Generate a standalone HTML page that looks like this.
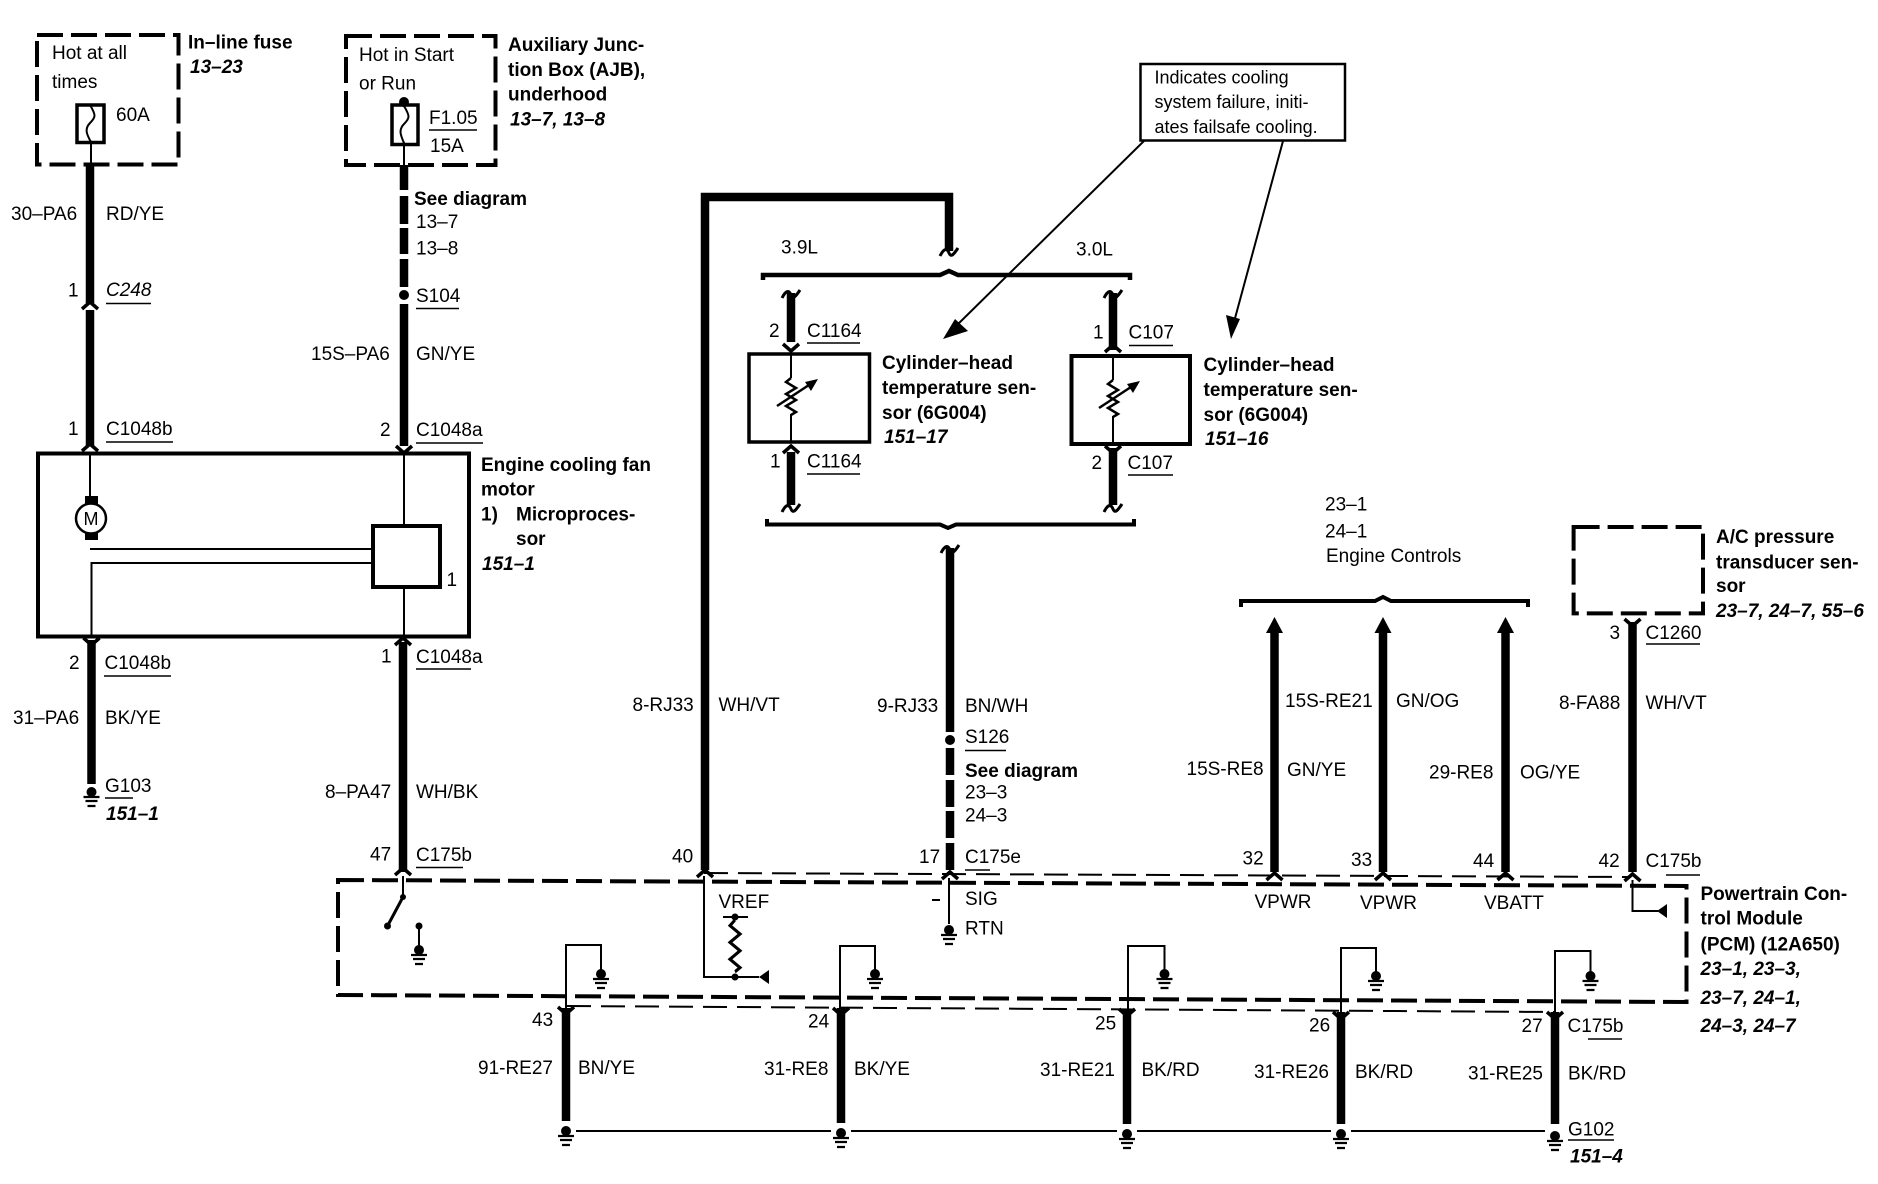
<!DOCTYPE html>
<html><head><meta charset="utf-8"><style>
html,body{margin:0;padding:0;background:#fff}
svg{display:block}
text{font-family:"Liberation Sans",sans-serif;font-size:19px;fill:#000}
.b{font-weight:bold}
.bi{font-weight:bold;font-style:italic}
.n{font-size:18px}
.w{stroke:#000;stroke-width:8.5;fill:none}
.t{stroke:#000;stroke-width:2;fill:none}
.m{stroke:#000;stroke-width:3.5;fill:none}
.d{stroke:#000;stroke-width:4;fill:none;stroke-dasharray:26 8}
.d2{stroke:#000;stroke-width:2;fill:none;stroke-dasharray:24 10}
.u{stroke:#000;stroke-width:1.5;fill:none}
</style></head><body>
<svg width="1878" height="1184" viewBox="0 0 1878 1184" xmlns="http://www.w3.org/2000/svg">
<defs>
<g id="gnd"><circle r="5" fill="#000"/><path d="M-8,5H8M-6,9H6M-4,14H4" stroke="#000" stroke-width="2.2"/></g>
<path id="up" d="M-8,7L0,0L8,7" stroke="#000" stroke-width="3.5" fill="none"/>
<path id="dn" d="M-8,-7L0,0L8,-7" stroke="#000" stroke-width="3.5" fill="none"/>
<path id="tl" d="M-9,5C-5,-3 -2,-3 0,2C2,7 5,3 9,-3" stroke="#000" stroke-width="3" fill="none"/>
<path id="zz" d="M0,0l-5,4l10,6l-10,6l10,6l-10,6l10,6l-5,3" stroke="#000" stroke-width="2.5" fill="none"/>
</defs>
<rect width="1878" height="1184" fill="#fff"/>

<!-- top left fuse boxes -->
<rect class="d" x="37" y="35" width="141.500" height="129.500"/>
<rect class="m" x="77" y="105" width="27" height="37.500"/>
<path class="t" d="M90,105c6,10 6,12 0,18c-6,6 -3,12 1,19V165" stroke-width="2.500"/>
<path class="w" d="M90,165V303M90,310V446"/>
<use href="#up" x="90" y="302"/><use href="#up" x="90" y="444"/>
<path class="t" d="M90,453V497"/>

<rect class="d" x="346" y="36" width="149.500" height="129"/>
<rect class="m" x="392" y="105" width="26" height="39.500"/>
<circle cx="404" cy="102" r="5" fill="#000"/>
<path class="t" d="M404,102V106c6,10 6,12 0,18c-6,6 -3,12 0,19V165" stroke-width="2.500"/>
<path class="w" d="M404,165V190M404,196V224M404,228V254M404,259V287M404,304V446"/>
<circle cx="404" cy="295" r="5" fill="#000"/>
<use href="#dn" x="404" y="453"/>
<path class="u" d="M429,130H477M106,303.500H151M416,308.500H459M106,442H173M416,443H483"/>

<!-- engine box -->
<rect x="38" y="453.500" width="431" height="183" fill="none" stroke="#000" stroke-width="4"/>
<rect x="373" y="526" width="67" height="61" fill="none" stroke="#000" stroke-width="4"/>
<path class="t" d="M404,453V526M404,587V636M90,549H373M373,563H91.500V636"/>
<circle cx="91" cy="518.500" r="15" fill="#fff" stroke="#000" stroke-width="2.500"/>
<rect x="85" y="496" width="13" height="8" fill="#000"/>
<rect x="85" y="533" width="13" height="7" fill="#000"/>
<text x="83.500" y="525" style="font-size:18px">M</text>

<path class="w" d="M91.500,640V784"/>
<use href="#dn" x="91.500" y="645"/>
<use href="#gnd" x="91.500" y="792"/>
<path class="u" d="M104,676H171M105,798H133M416,669H471M416,867.500H463"/>
<path class="w" d="M403,642V872"/>
<use href="#up" x="403" y="638"/><use href="#up" x="403" y="868"/>

<!-- PCM box -->
<path class="d" d="M338,880L1686.500,886V1002L338,995Z"/>
<path class="d2" d="M567,1006L1554,1012M704,873L1628,877"/>
<path class="t" d="M403,876V896"/>
<circle cx="403" cy="897" r="3" fill="#000"/>
<path d="M403,897L387.500,926" stroke="#000" stroke-width="3" fill="none"/>
<circle cx="387.500" cy="926" r="3.500" fill="#000"/>
<circle cx="419" cy="926" r="3.500" fill="#000"/>
<path class="t" d="M419,926V948"/>
<use href="#gnd" x="419" y="950"/>

<!-- heavy wire 40 to sensor -->
<path class="w" d="M705,870V197H949V251"/>
<use href="#up" x="705" y="870"/>
<use href="#tl" x="949" y="251"/>
<path class="t" d="M704,876V977H759"/>
<path d="M759,977L769,970V984Z" fill="#000"/>
<path d="M723,917H748" class="t"/>
<circle cx="735" cy="917" r="3.500" fill="#000"/>
<circle cx="735" cy="977" r="3.500" fill="#000"/>
<g transform="translate(735,920) scale(1,1.400)"><use href="#zz"/></g>

<!-- brackets -->
<path d="M763,280V275H940L949,271L958,275H1130V280" stroke="#000" stroke-width="4.500" fill="none"/>
<path d="M767,519V524.500H940L948,528L956,524.500H1134V519" stroke="#000" stroke-width="4" fill="none"/>

<!-- left sensor -->
<path class="w" d="M791,293V342"/>
<use href="#tl" x="791" y="293"/>
<use href="#dn" x="791" y="351"/>
<rect x="749" y="354" width="120.500" height="88" fill="none" stroke="#000" stroke-width="3.500"/>
<path class="t" d="M791,354V378M791,414V442"/>
<use href="#zz" x="791" y="378"/>
<path d="M777,406L812,383" stroke="#000" stroke-width="2.500"/>
<path d="M818,379L805,382L811,391Z" fill="#000"/>
<path class="w" d="M791,452V505"/>
<use href="#up" x="791" y="446"/>
<use href="#tl" x="791" y="507"/>
<path class="u" d="M807,343H860M807,474H860"/>

<!-- right sensor -->
<path class="w" d="M1113,293V350"/>
<use href="#tl" x="1113" y="293"/>
<use href="#up" x="1113" y="345"/>
<rect x="1071.500" y="356" width="118.500" height="88" fill="none" stroke="#000" stroke-width="4"/>
<path class="t" d="M1113,356V380M1113,416V444"/>
<use href="#zz" x="1113" y="380"/>
<path d="M1099,408L1134,385" stroke="#000" stroke-width="2.500"/>
<path d="M1140,381L1127,384L1133,393Z" fill="#000"/>
<path class="w" d="M1113,448V505"/>
<use href="#dn" x="1113" y="453"/>
<use href="#tl" x="1113" y="507"/>
<path class="u" d="M1129,345.500H1173M1128,475H1173"/>

<!-- note -->
<rect x="1140.500" y="64" width="204.500" height="76.500" fill="#fff" stroke="#000" stroke-width="2.500"/>
<path class="t" d="M1144,141L953,329M1283,141L1234,322"/>
<path d="M943,339L955,319L968,331Z" fill="#000"/>
<path d="M1231,339L1226,315L1240,319Z" fill="#000"/>

<!-- middle wire -->
<use href="#tl" x="950" y="548"/>
<path class="w" d="M950,548V732M950,748V775M950,780V807M950,811V838M950,843V870"/>
<circle cx="950" cy="740" r="5" fill="#000"/>
<use href="#up" x="950" y="872"/>
<path class="t" d="M949,878V924"/>
<use href="#gnd" x="949" y="930"/>
<path class="u" d="M965,750.500H1006M965,870H990"/>
<path class="t" d="M932,900H940"/>

<!-- engine controls -->
<path d="M1241,607V601H1375L1383,597L1391,601H1528V607" stroke="#000" stroke-width="4" fill="none"/>
<path class="w" d="M1274.500,630V872M1383,630V872M1505.500,630V872"/>
<path d="M1274.500,617L1283,633H1266Z M1383,617L1391.500,633H1374.500Z M1505.500,617L1514,633H1497Z" fill="#000"/>
<use href="#up" x="1274.500" y="873"/><use href="#up" x="1383" y="873"/><use href="#up" x="1505.500" y="873"/>

<!-- AC -->
<rect class="d" x="1573.600" y="527" width="129.400" height="86.400"/>
<path class="w" d="M1632.500,622V872"/>
<use href="#dn" x="1632.500" y="626"/><use href="#up" x="1632.500" y="874"/>
<path class="t" d="M1632.500,880V911H1658"/>
<path d="M1657,911L1667,904V918Z" fill="#000"/>
<path class="u" d="M1646,644H1700M1666,875H1700M1588,1039H1622M1568,1140H1614"/>

<!-- grounds bottom -->
<path class="w" d="M566,1008V1121M841,1008V1123M1127,1010V1124M1341,1012V1124M1555,1012V1124"/>
<use href="#dn" x="566" y="1014"/><use href="#dn" x="841" y="1015"/><use href="#dn" x="1127" y="1016"/><use href="#dn" x="1341" y="1019"/><use href="#dn" x="1555" y="1019"/>
<path class="t" d="M566,1008V945H601V972M840,1008V946H875V972M1128,1010V946H1164.500V972M1341,1012V948H1376V974M1555,1012V951H1590.500V974"/>
<use href="#gnd" x="601" y="974"/><use href="#gnd" x="875" y="974"/><use href="#gnd" x="1164.500" y="974"/><use href="#gnd" x="1376" y="976"/><use href="#gnd" x="1590.500" y="976"/>
<path class="t" d="M575,1131H1550"/>
<g fill="#fff"><rect x="556" y="1124" width="20" height="24"/><rect x="831" y="1125" width="20" height="24"/><rect x="1117" y="1126" width="20" height="24"/><rect x="1331" y="1127" width="20" height="24"/><rect x="1545" y="1127" width="20" height="24"/></g>
<use href="#gnd" x="566" y="1131"/><use href="#gnd" x="841" y="1133"/><use href="#gnd" x="1127" y="1134"/><use href="#gnd" x="1341" y="1134"/><use href="#gnd" x="1555" y="1136"/>

<!-- TEXT -->
<text x="52" y="59">Hot at all</text><text x="52" y="88">times</text><text x="116" y="121">60A</text>
<text class="b" x="188" y="48.500">In–line fuse</text><text class="bi" x="190" y="73">13–23</text>
<text x="359" y="61">Hot in Start</text><text x="359" y="89.500">or Run</text>
<text x="429" y="124">F1.05</text><text x="430" y="152">15A</text>
<text class="b" x="508" y="51">Auxiliary Junc-</text><text class="b" x="508" y="76">tion Box (AJB),</text><text class="b" x="508" y="100.500">underhood</text><text class="bi" x="510" y="125.500">13–7, 13–8</text>
<text x="11" y="220">30–PA6</text><text x="106" y="220">RD/YE</text>
<text x="68" y="296.500">1</text><text x="106" y="296" font-style="italic">C248</text>
<text class="b" x="414" y="205">See diagram</text><text x="416" y="228">13–7</text><text x="416" y="254.500">13–8</text>
<text x="416" y="302">S104</text>
<text x="311" y="360">15S–PA6</text><text x="416" y="360">GN/YE</text>
<text x="68" y="435">1</text><text x="106" y="435">C1048b</text>
<text x="380" y="436">2</text><text x="416" y="436">C1048a</text>
<text class="b" x="481" y="471">Engine cooling fan</text><text class="b" x="481" y="495.500">motor</text><text class="b" x="481" y="520.500">1)</text><text class="b" x="516" y="520.500">Microproces-</text><text class="b" x="516" y="545">sor</text><text class="bi" x="482" y="570">151–1</text>
<text x="446.500" y="586">1</text>
<text x="69" y="669">2</text><text x="104.500" y="669">C1048b</text>
<text x="13" y="724">31–PA6</text><text x="105" y="724">BK/YE</text>
<text x="105" y="792">G103</text><text class="bi" x="106" y="820">151–1</text>
<text x="381" y="662.500">1</text><text x="416" y="663">C1048a</text>
<text x="325" y="798">8–PA47</text><text x="416" y="798">WH/BK</text>
<text x="370" y="860.500">47</text><text x="416" y="861">C175b</text>
<text x="532" y="1026">43</text><text x="478" y="1074">91-RE27</text><text x="578" y="1074">BN/YE</text>
<text x="632.500" y="711">8-RJ33</text><text x="718.500" y="711">WH/VT</text>
<text x="877" y="712">9-RJ33</text><text x="965" y="712">BN/WH</text>
<text x="965" y="743">S126</text><text class="b" x="965" y="777">See diagram</text><text x="965" y="798.500">23–3</text><text x="965" y="821.500">24–3</text>
<text x="919" y="863">17</text><text x="965" y="863">C175e</text><text x="672" y="862.500">40</text>
<text x="965" y="905">SIG</text><text x="965" y="934.500">RTN</text><text x="718.500" y="908">VREF</text>
<text x="808" y="1027.500">24</text><text x="764" y="1075">31-RE8</text><text x="854" y="1075">BK/YE</text>
<text x="1095" y="1029.500">25</text><text x="1040" y="1076">31-RE21</text><text x="1141.500" y="1076">BK/RD</text>
<text x="1242.500" y="864.500">32</text><text x="1186.500" y="775">15S-RE8</text><text x="1287" y="776">GN/YE</text><text x="1254.500" y="908">VPWR</text>
<text x="1325" y="510.500">23–1</text><text x="1325" y="537.500">24–1</text><text x="1326" y="562">Engine Controls</text>
<text x="1285" y="707">15S-RE21</text><text x="1396" y="707">GN/OG</text>
<text x="1429" y="778.500">29-RE8</text><text x="1520" y="778.500">OG/YE</text>
<text x="1351" y="866">33</text><text x="1473" y="867">44</text><text x="1598.500" y="867">42</text><text x="1645.500" y="867">C175b</text>
<text x="1360" y="909">VPWR</text><text x="1484" y="909">VBATT</text>
<text x="1609.500" y="639">3</text><text x="1645.500" y="639">C1260</text>
<text x="1559" y="709">8-FA88</text><text x="1645.500" y="709">WH/VT</text>
<text class="b" x="1716" y="543">A/C pressure</text><text class="b" x="1716" y="568.500">transducer sen-</text><text class="b" x="1716" y="592">sor</text><text class="bi" x="1716" y="617">23–7, 24–7, 55–6</text>
<text class="b" x="1700.500" y="900">Powertrain Con-</text><text class="b" x="1700.500" y="924.500">trol Module</text><text class="b" x="1700.500" y="950.500">(PCM) (12A650)</text>
<text class="bi" x="1700.500" y="975">23–1, 23–3,</text><text class="bi" x="1700.500" y="1004">23–7, 24–1,</text><text class="bi" x="1700.500" y="1032">24–3, 24–7</text>
<text x="1309" y="1031.500">26</text><text x="1254" y="1078">31-RE26</text><text x="1355" y="1078">BK/RD</text>
<text x="1521.500" y="1032">27</text><text x="1567.500" y="1032">C175b</text>
<text x="1468" y="1079.500">31-RE25</text><text x="1568" y="1079.500">BK/RD</text>
<text x="1568" y="1135.500">G102</text><text class="bi" x="1570" y="1162.500">151–4</text>
<text class="n" x="1154.500" y="83.500">Indicates cooling</text><text class="n" x="1154.500" y="108">system failure, initi-</text><text class="n" x="1154.500" y="133">ates failsafe cooling.</text>
<text x="781" y="253.500">3.9L</text><text x="1076" y="255.500">3.0L</text>
<text x="769" y="337">2</text><text x="807" y="337">C1164</text>
<text class="b" x="882" y="369">Cylinder–head</text><text class="b" x="882" y="394">temperature sen-</text><text class="b" x="882" y="419">sor (6G004)</text><text class="bi" x="884" y="443">151–17</text>
<text x="770" y="467.500">1</text><text x="807" y="467.500">C1164</text>
<text x="1093" y="338.500">1</text><text x="1128.500" y="338.500">C107</text>
<text class="b" x="1203.500" y="371">Cylinder–head</text><text class="b" x="1203.500" y="396">temperature sen-</text><text class="b" x="1203.500" y="421">sor (6G004)</text><text class="bi" x="1205" y="445">151–16</text>
<text x="1091.500" y="469">2</text><text x="1127.500" y="469">C107</text>
</svg>
</body></html>
